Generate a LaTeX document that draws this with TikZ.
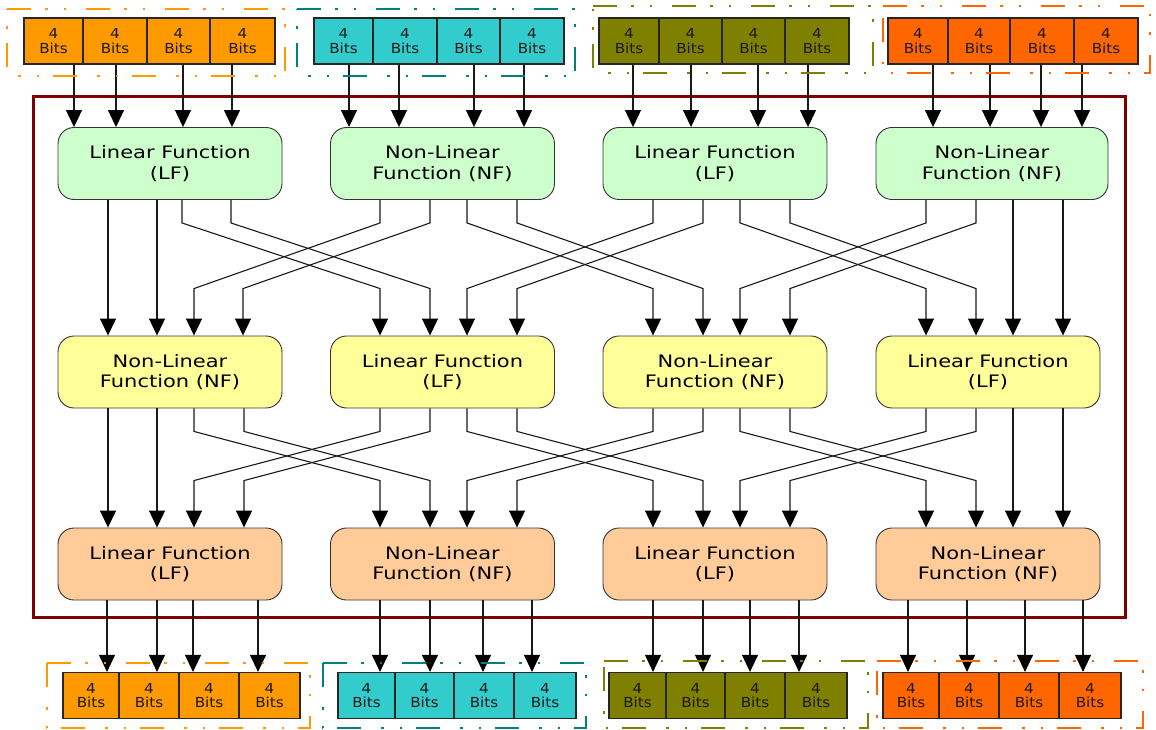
\documentclass[tikz,border=0pt]{standalone}
\usepackage{fontspec}
\newfontfamily\boxfont[FakeStretch=1.22]{DejaVu Sans}
\newfontfamily\bitfont[FakeStretch=1.1]{DejaVu Sans}
\usetikzlibrary{arrows.meta,calc}
\definecolor{orA}{HTML}{FF9900}
\definecolor{tlB}{HTML}{33CCCC}
\definecolor{tlBd}{HTML}{008080}
\definecolor{olC}{HTML}{808000}
\definecolor{orD}{HTML}{FF6600}
\definecolor{gnF}{HTML}{CCFFCC}
\definecolor{ylF}{HTML}{FFFF99}
\definecolor{pcF}{HTML}{FFCC99}
\definecolor{frame}{HTML}{800000}
\tikzset{
  fnbox/.style={draw=black!80, line width=0.9pt, rounded corners=16pt,
    minimum width=224pt, minimum height=72pt, inner sep=0pt, align=center,
    text=black, font=\boxfont\fontsize{17.2}{20.5}\selectfont},
  bitcell/.style={draw=black!85, line width=1.2pt, minimum height=46pt,
    inner sep=0pt, align=center, text=black!90,
    font=\bitfont\fontsize{13.8}{14.7}\selectfont},
  conn/.style={draw=black!90, line width=1.1pt,
    -{Triangle[length=17pt,width=16pt,fill=black,color=black]}},
  grp/.style={line width=2.8pt,
    dash pattern=on 24pt off 14pt on 2.5pt off 16pt on 2.5pt off 20pt},
}
\newcommand\bitrow[8]{%
  \node[bitcell,fill=#3,minimum width={#5-#4}] (#1a) at ({(#4+#5)/2},#2) {4\\Bits};
  \node[bitcell,fill=#3,minimum width={#6-#5}] (#1b) at ({(#5+#6)/2},#2) {4\\Bits};
  \node[bitcell,fill=#3,minimum width={#7-#6}] (#1c) at ({(#6+#7)/2},#2) {4\\Bits};
  \node[bitcell,fill=#3,minimum width={#8-#7}] (#1d) at ({(#7+#8)/2},#2) {4\\Bits};
}
% group border: colour, x0, y0, x1, y1 (starts at top-left, runs right)
\newcommand\grpbox[5]{\draw[grp,#1] (#2,#3) -- (#4,#3) -- (#4,#5) -- (#2,#5) -- cycle;}
% vertical connector between two nodes at absolute x
\newcommand\vconn[3]{\draw[conn] (#1.south -| #3,0) -- (#2.north -| #3,0);}
% crossing connector: source node, source x, target node, target x
\newcommand\xconn[4]{\draw[conn] (#1.south -| #2,0) -- ++(0,23)
  -- ($(#3.north -| #4,0)+(0,-47)$) -- (#3.north -| #4,0);}
\begin{document}
\begin{tikzpicture}[x=1pt,y=-1pt]
\useasboundingbox (0,0) rectangle (1156,730);
% outer frame
\draw[frame, line width=3pt] (33,97) rectangle (1125,617);
% function boxes
\node[fnbox,fill=gnF] (r1b1) at (170,163.5) {Linear Function\\(LF)};
\node[fnbox,fill=gnF] (r1b2) at (442.5,163.5) {Non-Linear\\Function (NF)};
\node[fnbox,fill=gnF] (r1b3) at (715,163.5) {Linear Function\\(LF)};
\node[fnbox,fill=gnF,minimum width=232pt] (r1b4) at (992,163.5) {Non-Linear\\Function (NF)};
\node[fnbox,fill=ylF] (r2b1) at (170,372) {Non-Linear\\Function (NF)};
\node[fnbox,fill=ylF] (r2b2) at (442.5,372) {Linear Function\\(LF)};
\node[fnbox,fill=ylF] (r2b3) at (715,372) {Non-Linear\\Function (NF)};
\node[fnbox,fill=ylF] (r2b4) at (988,372) {Linear Function\\(LF)};
\node[fnbox,fill=pcF] (r3b1) at (170,564) {Linear Function\\(LF)};
\node[fnbox,fill=pcF] (r3b2) at (442.5,564) {Non-Linear\\Function (NF)};
\node[fnbox,fill=pcF] (r3b3) at (715,564) {Linear Function\\(LF)};
\node[fnbox,fill=pcF] (r3b4) at (988,564) {Non-Linear\\Function (NF)};
% bit cells
\bitrow{t1}{41}{orA}{24}{83}{147}{210}{275}
\bitrow{t2}{41}{tlB}{314}{373}{437}{500}{564}
\bitrow{t3}{41}{olC}{599}{659}{722}{785}{849}
\bitrow{t4}{41}{orD}{888}{948}{1010}{1074}{1138}
\bitrow{u1}{695.5}{orA}{63}{119}{179}{239}{300}
\bitrow{u2}{695.5}{tlB}{338}{395}{454}{514}{576}
\bitrow{u3}{695.5}{olC}{609}{666}{725}{785}{847}
\bitrow{u4}{695.5}{orD}{883}{939}{999}{1059}{1121}
% inputs
\vconn{t1a}{r1b1}{74}\vconn{t1b}{r1b1}{116}\vconn{t1c}{r1b1}{183}\vconn{t1d}{r1b1}{232}
\vconn{t2a}{r1b2}{349}\vconn{t2b}{r1b2}{399}\vconn{t2c}{r1b2}{474}\vconn{t2d}{r1b2}{524}
\vconn{t3a}{r1b3}{633}\vconn{t3b}{r1b3}{691}\vconn{t3c}{r1b3}{758}\vconn{t3d}{r1b3}{808}
\vconn{t4a}{r1b4}{933}\vconn{t4b}{r1b4}{990}\vconn{t4c}{r1b4}{1041}\vconn{t4d}{r1b4}{1082}
% row 1 -> row 2
\vconn{r1b1}{r2b1}{108}\vconn{r1b1}{r2b1}{157}
\xconn{r1b1}{182}{r2b2}{380}\xconn{r1b1}{231}{r2b2}{430}
\xconn{r1b2}{380}{r2b1}{194}\xconn{r1b2}{430}{r2b1}{243}
\xconn{r1b2}{467}{r2b3}{653}\xconn{r1b2}{517}{r2b3}{703}
\xconn{r1b3}{653}{r2b2}{467}\xconn{r1b3}{703}{r2b2}{517}
\xconn{r1b3}{740}{r2b4}{926}\xconn{r1b3}{790}{r2b4}{976}
\xconn{r1b4}{926}{r2b3}{740}\xconn{r1b4}{976}{r2b3}{790}
\vconn{r1b4}{r2b4}{1013}\vconn{r1b4}{r2b4}{1063}
% row 2 -> row 3
\vconn{r2b1}{r3b1}{108}\vconn{r2b1}{r3b1}{157}
\xconn{r2b1}{194}{r3b2}{380}\xconn{r2b1}{244}{r3b2}{430}
\xconn{r2b2}{380}{r3b1}{194}\xconn{r2b2}{430}{r3b1}{244}
\xconn{r2b2}{467}{r3b3}{653}\xconn{r2b2}{517}{r3b3}{703}
\xconn{r2b3}{653}{r3b2}{467}\xconn{r2b3}{703}{r3b2}{517}
\xconn{r2b3}{740}{r3b4}{926}\xconn{r2b3}{790}{r3b4}{976}
\xconn{r2b4}{926}{r3b3}{740}\xconn{r2b4}{976}{r3b3}{790}
\vconn{r2b4}{r3b4}{1013}\vconn{r2b4}{r3b4}{1063}
% outputs
\vconn{r3b1}{u1a}{107}\vconn{r3b1}{u1b}{157}\vconn{r3b1}{u1c}{193}\vconn{r3b1}{u1d}{258}
\vconn{r3b2}{u2a}{380}\vconn{r3b2}{u2b}{430}\vconn{r3b2}{u2c}{483}\vconn{r3b2}{u2d}{532}
\vconn{r3b3}{u3a}{653}\vconn{r3b3}{u3b}{703}\vconn{r3b3}{u3c}{750}\vconn{r3b3}{u3d}{799}
\vconn{r3b4}{u4a}{908}\vconn{r3b4}{u4b}{967}\vconn{r3b4}{u4c}{1025}\vconn{r3b4}{u4d}{1083}
% group borders
\grpbox{orA}{7}{9}{285}{76}
\grpbox{tlBd}{297}{9}{575}{76}
\grpbox{olC}{593}{6}{873}{73}
\grpbox{orD}{883}{6}{1150}{73}
\grpbox{orA}{47}{663}{310}{728}
\grpbox{tlBd}{323}{663}{586}{728}
\grpbox{olC}{604}{661}{868}{728}
\grpbox{orD}{877}{661}{1143}{728}
\end{tikzpicture}
\end{document}
